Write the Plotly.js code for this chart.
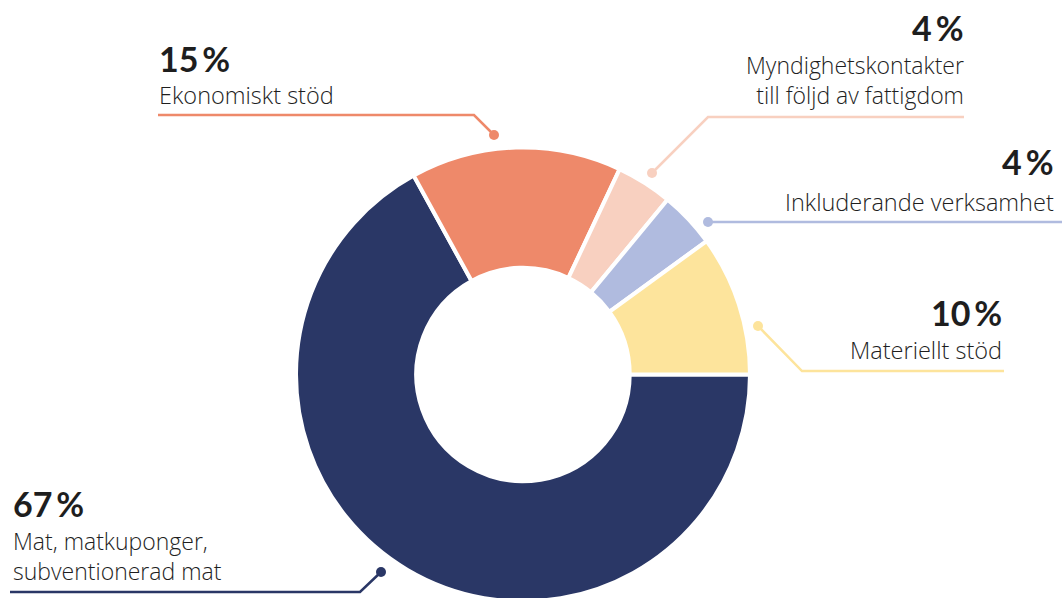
<!DOCTYPE html>
<html>
<head>
<meta charset="utf-8">
<script src="https://cdn.plot.ly/plotly-3.0.1.min.js"></script>
<style>
html,body{margin:0;padding:0;overflow:hidden;background:#fff;}
#chart{width:1062px;height:610px;}
</style>
</head>
<body>
<div id="chart"></div>
<script>
const categories = ["Mat, matkuponger, subventionerad mat", "Ekonomiskt stöd", "Myndighetskontakter till följd av fattigdom", "Inkluderande verksamhet", "Materiellt stöd"];
const values = [67, 15, 4, 4, 10];
const pctLabels = ["67", "15", "4", "4", "10"];
const labelLines = [["Mat, matkuponger,", "subventionerad mat"], ["Ekonomiskt stöd"], ["Myndighetskontakter", "till följd av fattigdom"], ["Inkluderande verksamhet"], ["Materiellt stöd"]];
const colors = ["#2a3766", "#ee896a", "#f8d0c0", "#b0bbdf", "#fde49c"];

const W = 1062, H = 610;
const px = x => x / W;
const py = y => 1 - y / H;

// label layout (pixel positions of decorations): x edge, text baselines
const labelPos = [
  {x: 11, anchor: "left", pctBase: 517, base: [550, 578], line: [[10,592],[360,592],[381,572]]},
  {x: 157, anchor: "left", pctBase: 72, base: [103], line: [[158,115],[474,115],[494,135]]},
  {x: 966, anchor: "right", pctBase: 42, base: [75, 101], line: [[964,117],[708,117],[652,173]]},
  {x: 1056, anchor: "right", pctBase: 175, base: [210], line: [[1062,222],[708,222]]},
  {x: 1004, anchor: "right", pctBase: 326, base: [358], line: [[1004,371],[802,371],[758,326]]}
];

const annotations = [];
const shapes = [];
labelPos.forEach((p, i) => {
  annotations.push({
    xref: "paper", yref: "paper", x: px(p.x), y: py(p.pctBase - 14),
    xanchor: p.anchor, yanchor: "middle", showarrow: false,
    text: "<b>" + pctLabels[i] + "<span style='font-size:16px'>&nbsp;</span>%</b>",
    font: {family: "Lato, sans-serif", size: 34, color: "#1e1e1e"}
  });
  const lines = labelLines[i];
  const midBase = p.base.reduce((a, b) => a + b, 0) / p.base.length;
  annotations.push({
    xref: "paper", yref: "paper", x: px(p.x), y: py(midBase - 8),
    xanchor: p.anchor, yanchor: "middle", showarrow: false, align: p.anchor,
    text: lines.join("<br>"),
    font: {family: "Open Sans, sans-serif", size: lines.length > 1 ? 23 : 23.5, weight: 300, color: "#1e1e1e"}
  });
  const path = p.line.map((pt, k) => (k ? "L" : "M") + px(pt[0]) + "," + py(pt[1])).join(" ");
  shapes.push({type: "path", xref: "paper", yref: "paper", path: path,
    line: {color: colors[i], width: 2.5}});
  const end = p.line[p.line.length - 1];
  const dot = (i === 3) ? p.line[1] : end;
  shapes.push({type: "circle", xref: "paper", yref: "paper",
    x0: px(dot[0] - 5), x1: px(dot[0] + 5), y0: py(dot[1] + 5), y1: py(dot[1] - 5),
    fillcolor: colors[i], line: {width: 0}});
});

const trace = {
  type: "pie",
  labels: categories,
  values: values,
  hole: 0.47,
  sort: false,
  direction: "clockwise",
  rotation: 90,
  textinfo: "none",
  hoverinfo: "label+percent",
  marker: {colors: colors, line: {color: "#ffffff", width: 4}},
  domain: {x: [px(296), px(750)], y: [py(602), py(147)]},
  showlegend: false
};

const layout = {
  width: W, height: H,
  margin: {l: 0, r: 0, t: 0, b: 0},
  paper_bgcolor: "#ffffff",
  plot_bgcolor: "#ffffff",
  showlegend: false,
  annotations: annotations,
  shapes: shapes
};

Plotly.newPlot("chart", [trace], layout, {displayModeBar: false, staticPlot: true});
</script>
</body>
</html>
